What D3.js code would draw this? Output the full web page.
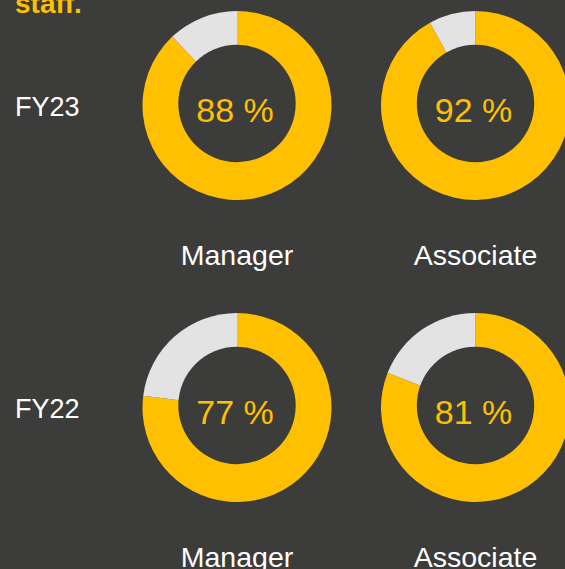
<!DOCTYPE html>
<html>
<head>
<meta charset="utf-8">
<script src="https://cdn.jsdelivr.net/npm/d3@7"></script>
<style>
  html, body { margin: 0; padding: 0; background: #3c3c3a; overflow: hidden; }
  svg { display: block; }
  text { font-family: "Helvetica Neue", Helvetica, "Liberation Sans", Arial, sans-serif; }
</style>
</head>
<body>
<svg id="chart" width="565" height="569"></svg>
<script>
// data
const years = ["FY23", "FY22"];
const roles = ["Manager", "Associate"];
const fy23 = [88, 92];
const fy22 = [77, 81];
const titleTail = "staff.";

const W = 565, H = 569;
const YELLOW = "#fec000", GREY = "#e3e3e3", BG = "#3c3c3a";
const rOuter = 94.5, rInner = 58.7;

const svg = d3.select("#chart");
svg.append("rect").attr("width", W).attr("height", H).attr("fill", BG);

// last line of the title, mostly above the frame
svg.append("text")
  .attr("x", 15).attr("y", 13)
  .attr("fill", YELLOW)
  .attr("font-size", 28).attr("font-weight", "bold")
  .text(titleTail);

const x = d3.scalePoint().domain(roles).range([237, 475.5]);
const y = d3.scalePoint().domain(years).range([105.5, 407.5]);

const pie = d3.pie().sort(null).value(d => d);
const arc = d3.arc().innerRadius(0).outerRadius(rOuter);

const rows = [fy23, fy22];

years.forEach((yr, i) => {
  // row label
  svg.append("text")
    .attr("x", 15).attr("y", y(yr) + 10)
    .attr("fill", "#ffffff")
    .attr("font-size", 27)
    .text(yr);

  roles.forEach((role, j) => {
    const v = rows[i][j];
    const g = svg.append("g").attr("transform", `translate(${x(role)},${y(yr)})`);

    g.selectAll("path")
      .data(pie([v, 100 - v]))
      .join("path")
      .attr("d", arc)
      .attr("fill", (d, k) => k === 0 ? YELLOW : GREY);

    // hole sits a touch higher than the ring
    g.append("circle")
      .attr("cx", 0).attr("cy", -2)
      .attr("r", rInner)
      .attr("fill", BG);

    g.append("text")
      .attr("x", -2).attr("y", 16.5)
      .attr("text-anchor", "middle")
      .attr("fill", YELLOW)
      .attr("font-size", 34)
      .text(v + " %");

    g.append("text")
      .attr("x", 0).attr("y", 159.5)
      .attr("text-anchor", "middle")
      .attr("fill", "#ffffff")
      .attr("font-size", 28.5)
      .text(role);
  });
});
</script>
</body>
</html>
